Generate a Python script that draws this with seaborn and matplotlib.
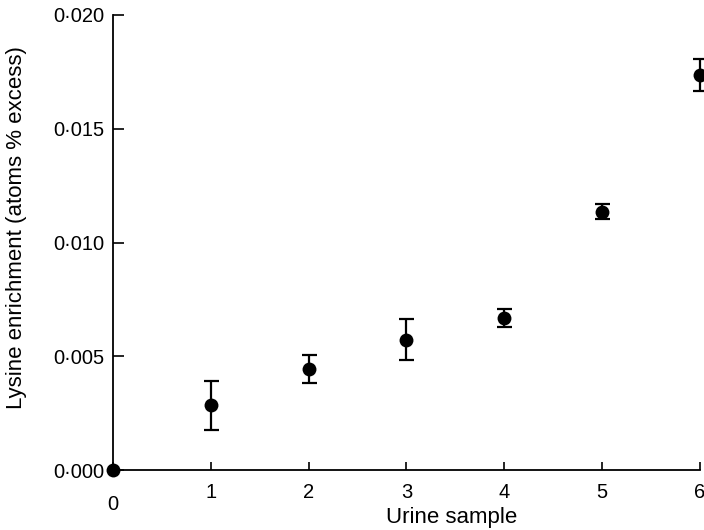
import numpy as np
import pandas as pd
import seaborn as sns
import matplotlib
matplotlib.use("Agg")
import matplotlib.pyplot as plt
import matplotlib.ticker as mticker
from matplotlib.transforms import ScaledTranslation

# values
sample = [0, 1, 2, 3, 4, 5, 6]
enrich = [0.0, 0.00286, 0.00444, 0.00572, 0.00668, 0.01135, 0.01737]
err_lo = [0.0, 0.00110, 0.00061, 0.00088, 0.00039, 0.00031, 0.00070]
err_hi = [0.0, 0.00105, 0.00062, 0.00092, 0.00040, 0.00035, 0.00070]

df = pd.DataFrame({"sample": sample, "enrich": enrich})

sns.set_style("ticks")
plt.rcParams["font.family"] = ["Liberation Sans", "DejaVu Sans"]
plt.rcParams["text.color"] = "black"
plt.rcParams["axes.labelcolor"] = "black"

fig = plt.figure(figsize=(7.04, 5.30), dpi=100)
ax = fig.add_axes([0.1605, 0.1132, 0.8335, 0.8585])

# error bars (skip the zero point which has none)
ax.errorbar(df["sample"][1:], df["enrich"][1:],
            yerr=[err_lo[1:], err_hi[1:]], fmt="none", ecolor="black",
            elinewidth=1.6, capsize=5.4, capthick=1.6, clip_on=False, zorder=2)
sns.scatterplot(data=df, x="sample", y="enrich", ax=ax, color="black",
                s=100, edgecolor="black", linewidth=0, clip_on=False, zorder=3)

ax.set_xlim(0, 6)
ax.set_ylim(0, 0.020)
ax.set_xticks(sample)
ax.set_yticks([0, 0.005, 0.010, 0.015, 0.020])
ax.yaxis.set_major_formatter(mticker.FuncFormatter(lambda v, p: f"{v:.3f}".replace(".", "\u00b7")))

sns.despine(ax=ax)
for s in ["left", "bottom"]:
    ax.spines[s].set_linewidth(1.3)
    ax.spines[s].set_color("black")

ax.tick_params(axis="both", direction="in", color="black", width=1.2, labelsize=14.5, labelcolor="black")
ax.tick_params(axis="y", length=8, pad=6)
ax.tick_params(axis="x", length=6, pad=9)

# the "0" label sits lower in the original
lbl0 = ax.get_xticklabels()[0]
lbl0.set_transform(lbl0.get_transform() + ScaledTranslation(0, -12 / 100, fig.dpi_scale_trans))

ax.set_xlabel("Urine sample", fontsize=16)
ax.set_ylabel("Lysine enrichment (atoms % excess)", fontsize=16)
ax.xaxis.set_label_coords(0.577, -0.082)
ax.yaxis.set_label_coords(-0.147, 0.532)

fig.savefig("out.png", dpi=100)
